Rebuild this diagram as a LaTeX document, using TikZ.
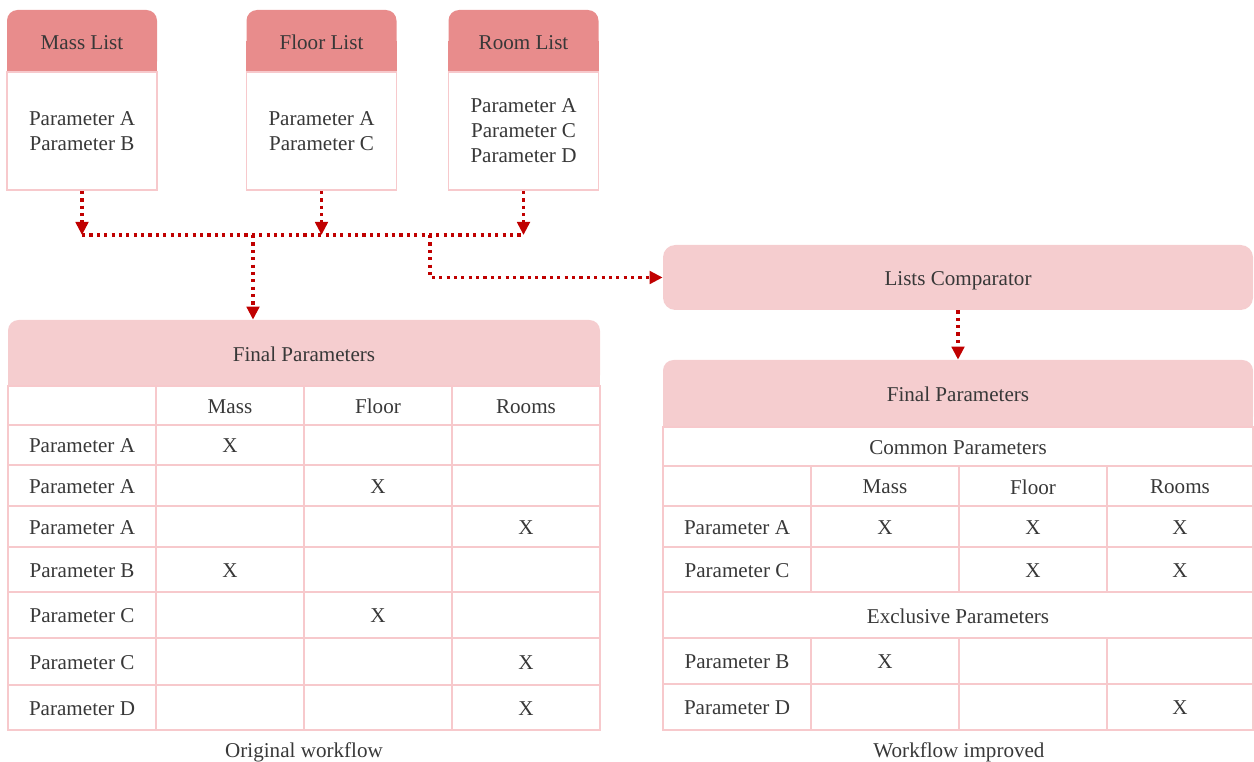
\documentclass[tikz,border=0pt]{standalone}
\usepackage{fontspec}
\setmainfont{Liberation Serif}
\usetikzlibrary{arrows.meta,backgrounds}

\definecolor{headred}{HTML}{E88C8C}
\definecolor{headpink}{HTML}{F5CDCF}
\definecolor{linepink}{HTML}{F7C9CC}
\definecolor{flowred}{HTML}{C00000}
\definecolor{textgray}{HTML}{383838}

\tikzset{
	every node/.style={text=textgray, font=\fontsize{12}{14.2}\selectfont},
	listhead/.style={rectangle, fill=headred, rounded corners=6pt, minimum width=3cm, minimum height=1.24cm, inner sep=0pt, text height=0.36cm, text depth=0pt},
	listbody/.style={rectangle, draw=linepink, line width=1.1pt, fill=white, minimum width=3cm, minimum height=2.36cm, align=center, inner sep=0pt},
	tabhead/.style={rectangle, fill=headpink, rounded corners=6pt, inner sep=0pt, text height=0.34cm, text depth=0pt},
	tabgrid/.style={draw=linepink, line width=1.1pt},
	flow/.style={draw=flowred, line width=1.8pt, dash pattern=on 1.8pt off 2.4pt},
	flowarrow/.style={flow, -{Triangle[length=0.26cm,width=0.25cm]}},
}

\begin{document}
\begin{tikzpicture}
	\useasboundingbox (0,0) rectangle (25.08,15.24);

	% the three lists
	\node 	(masshead)	at	(1.64,14.42)	[listhead]{Mass List};
	\node 	(massbody)	at	(1.64,12.62)	[listbody]{Parameter A\\Parameter B};

	\node 	(floorhead)	at	(6.43,14.42)	[listhead]{Floor List};
	\node 	(floorbody)	at	(6.43,12.62)	[listbody]{Parameter A\\Parameter C};

	\node 	(roomhead)	at	(10.47,14.42)	[listhead]{Room List};
	\node 	(roombody)	at	(10.47,12.62)	[listbody]{Parameter A\\Parameter C\\Parameter D};

	% comparator and the two result tables
	\node 	(comp)		at	(19.16,9.69)	[tabhead, rounded corners=7pt, minimum width=11.80cm, minimum height=1.30cm]{Lists Comparator};
	\node 	(origtab)	at	(6.08,8.18)	[tabhead, minimum width=11.84cm, minimum height=1.32cm]{Final Parameters};
	\node 	(imprtab)	at	(19.16,7.37)	[tabhead, minimum width=11.80cm, minimum height=1.34cm]{Final Parameters};

	\begin{scope}[on background layer]
		\fill[headred]	(masshead.west)	rectangle	(masshead.south east);
		\fill[headred]	(floorhead.west)	rectangle	(floorhead.south east);
		\fill[headred]	(roomhead.west)	rectangle	(roomhead.south east);
		\fill[headpink]	(origtab.west)	rectangle	(origtab.south east);
		\fill[headpink]	(imprtab.west)	rectangle	(imprtab.south east);
	\end{scope}

	% collecting line
	\coordinate	(busm)	at	(1.64,10.54);
	\coordinate	(busf)	at	(6.43,10.54);
	\coordinate	(busr)	at	(10.47,10.54);
	\coordinate	(buso)	at	(5.06,10.54);
	\coordinate	(busc)	at	(8.60,10.54);

	\draw[flowarrow]	(massbody)	to	(busm);
	\draw[flowarrow]	(floorbody)	to	(busf);
	\draw[flowarrow]	(roombody)	to	(busr);
	\draw[flow]		(busm)	--	(busr);
	\draw[flowarrow]	(buso)	--	(buso |- origtab.north);
	\draw[flowarrow]	(busc)	|-	(comp.west);
	\draw[flowarrow]	(comp)	to	(imprtab);

	% original workflow table
	\draw[tabgrid] (0.16,7.52) rectangle (12.00,0.64);
	\draw[tabgrid] (0.16,6.74) -- (12.00,6.74) (0.16,5.94) -- (12.00,5.94) (0.16,5.12) -- (12.00,5.12)
		(0.16,4.30) -- (12.00,4.30) (0.16,3.40) -- (12.00,3.40) (0.16,2.48) -- (12.00,2.48) (0.16,1.54) -- (12.00,1.54);
	\draw[tabgrid] (3.12,7.52) -- (3.12,0.64) (6.08,7.52) -- (6.08,0.64) (9.04,7.52) -- (9.04,0.64);

	\node 	(omass)		at	(4.60,7.11)	{Mass};
	\node 	(ofloor)	at	(7.56,7.11)	{Floor};
	\node 	(orooms)	at	(10.52,7.11)	{Rooms};
	\node 	(opa1)		at	(1.64,6.32)	{Parameter A};
	\node 	(ox1)		at	(4.60,6.32)	{X};
	\node 	(opa2)		at	(1.64,5.51)	{Parameter A};
	\node 	(ox2)		at	(7.56,5.51)	{X};
	\node 	(opa3)		at	(1.64,4.69)	{Parameter A};
	\node 	(ox3)		at	(10.52,4.69)	{X};
	\node 	(opb)		at	(1.64,3.83)	{Parameter B};
	\node 	(ox4)		at	(4.60,3.83)	{X};
	\node 	(opc1)		at	(1.64,2.92)	{Parameter C};
	\node 	(ox5)		at	(7.56,2.92)	{X};
	\node 	(opc2)		at	(1.64,1.99)	{Parameter C};
	\node 	(ox6)		at	(10.52,1.99)	{X};
	\node 	(opd)		at	(1.64,1.07)	{Parameter D};
	\node 	(ox7)		at	(10.52,1.07)	{X};

	\node 	(origcap)	at	(6.08,0.20)	{Original workflow};

	% improved workflow table
	\draw[tabgrid] (13.26,6.70) rectangle (25.06,0.64);
	\draw[tabgrid] (13.26,5.92) -- (25.06,5.92) (13.26,5.12) -- (25.06,5.12) (13.26,4.30) -- (25.06,4.30)
		(13.26,3.40) -- (25.06,3.40) (13.26,2.48) -- (25.06,2.48) (13.26,1.56) -- (25.06,1.56);
	\draw[tabgrid] (16.22,5.92) -- (16.22,3.40) (19.18,5.92) -- (19.18,3.40) (22.14,5.92) -- (22.14,3.40);
	\draw[tabgrid] (16.22,2.48) -- (16.22,0.64) (19.18,2.48) -- (19.18,0.64) (22.14,2.48) -- (22.14,0.64);

	\node 	(icommon)	at	(19.16,6.29)	{Common Parameters};
	\node 	(imass)		at	(17.70,5.50)	{Mass};
	\node 	(ifloor)	at	(20.66,5.50)	{Floor};
	\node 	(irooms)	at	(23.60,5.50)	{Rooms};
	\node 	(ipa)		at	(14.74,4.69)	{Parameter A};
	\node 	(ix1)		at	(17.70,4.69)	{X};
	\node 	(ix2)		at	(20.66,4.69)	{X};
	\node 	(ix3)		at	(23.60,4.69)	{X};
	\node 	(ipc)		at	(14.74,3.83)	{Parameter C};
	\node 	(ix4)		at	(20.66,3.83)	{X};
	\node 	(ix5)		at	(23.60,3.83)	{X};
	\node 	(iexcl)		at	(19.16,2.92)	{Exclusive Parameters};
	\node 	(ipb)		at	(14.74,2.00)	{Parameter B};
	\node 	(ix6)		at	(17.70,2.00)	{X};
	\node 	(ipd)		at	(14.74,1.08)	{Parameter D};
	\node 	(ix7)		at	(23.60,1.08)	{X};

	\node 	(imprcap)	at	(19.18,0.20)	{Workflow improved};

\end{tikzpicture}
\end{document}
